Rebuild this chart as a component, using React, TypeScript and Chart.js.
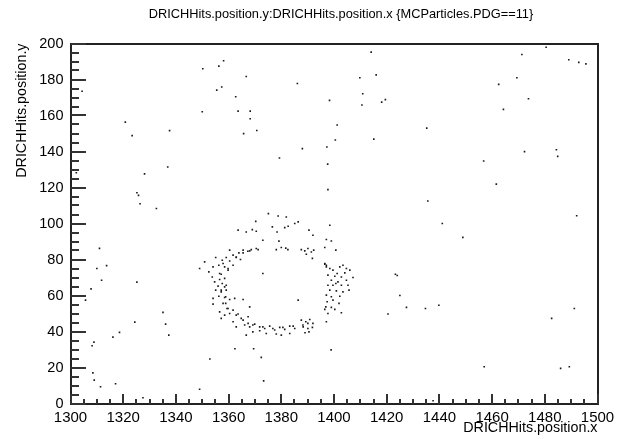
import React, { useEffect, useRef } from "react";
import { Chart, registerables } from "chart.js";

Chart.register(...registerables);

const TITLE = "DRICHHits.position.y:DRICHHits.position.x {MCParticles.PDG==11}";
const X_TITLE = "DRICHHits.position.x";
const Y_TITLE = "DRICHHits.position.y";
const X_MIN = 1300;
const X_MAX = 1500;
const X_STEP = 20;
const Y_MIN = 0;
const Y_MAX = 200;
const Y_STEP = 20;
const MINOR_STEP = 5;

// isolated hits
const scatterX = [
  1304.4, 1350.2, 1356.3, 1358.1, 1355.5, 1357.4, 1362.7, 1350.0, 1363.6, 1320.8, 1323.4, 1337.6, 1336.9,
  1414.1, 1366.7, 1386.1, 1409.8, 1416.0, 1410.9, 1410.6, 1418.1, 1419.5, 1398.3, 1368.2, 1368.2, 1365.7, 1370.7, 1401.2, 1400.5, 1415.1, 1388.0, 1397.3, 1379.3, 1397.6,
  1480.5, 1471.3, 1489.1, 1492.9, 1495.6, 1469.4, 1462.5, 1473.8, 1464.3, 1435.2, 1472.3, 1484.4, 1484.9, 1456.8,
  1302.2, 1328.1, 1325.2, 1325.8, 1326.4, 1332.6, 1311.0, 1310.0, 1313.7, 1311.8, 1325.2, 1307.8,
  1461.6, 1435.6, 1441.1, 1448.9, 1492.1,
  1305.7, 1335.1, 1324.4, 1336.1, 1318.6, 1316.1, 1337.3, 1308.9, 1308.2, 1362.4, 1352.9, 1308.5, 1309.0, 1311.4, 1317.1, 1349.0, 1327.5,
  1369.5, 1372.4, 1373.3, 1398.9, 1420.5, 1427.5, 1434.7, 1439.8, 1482.6, 1491.2, 1457.0, 1486.0, 1489.3, 1437.6,
  1397.7, 1423.3, 1424.0, 1425.0,
];
const scatterY = [
  173.5, 186.0, 187.4, 190.4, 174.1, 175.8, 170.4, 162.1, 162.4, 156.3, 148.8, 151.6, 131.4,
  195.2, 181.7, 177.8, 181.0, 182.6, 172.1, 165.8, 167.4, 168.8, 168.4, 162.4, 158.2, 149.9, 151.7, 154.7, 146.4, 146.9, 141.6, 142.5, 136.4, 133.0,
  197.9, 193.9, 191.0, 189.5, 188.7, 181.0, 177.3, 169.3, 163.4, 153.0, 139.9, 141.0, 137.3, 134.7,
  128.2, 127.6, 117.1, 115.6, 111.0, 108.3, 86.2, 75.0, 76.6, 68.5, 67.4, 63.7,
  121.9, 112.5, 100.0, 92.3, 104.3,
  57.4, 50.6, 45.2, 44.1, 39.5, 36.9, 38.0, 34.1, 32.1, 30.4, 24.7, 17.0, 13.0, 9.3, 11.0, 7.9, 3.2,
  30.4, 25.6, 12.6, 29.8, 49.7, 53.4, 52.8, 54.6, 47.3, 52.8, 20.4, 19.5, 20.4, 1.5,
  118.8, 71.8, 71.1, 60.0,
];

// Cherenkov ring hits
const ringX = [
  1375.1, 1378.8, 1381.9, 1370.3, 1363.6, 1366.7, 1369.0, 1370.5, 1376.6, 1378.4, 1381.3, 1382.6, 1385.1, 1386.4, 1373.0, 1379.1,
  1378.1, 1380.0, 1381.7, 1382.5, 1365.5, 1367.3, 1368.6, 1370.5, 1363.9,
  1360.4, 1361.7, 1362.9, 1364.5, 1359.1, 1357.6, 1360.4, 1361.7, 1356.3, 1355.1, 1358.5, 1354.1, 1350.9, 1349.0, 1359.8, 1352.5, 1356.6, 1353.8,
  1354.7, 1356.6, 1358.5, 1357.6, 1356.0, 1359.1, 1355.1, 1357.2, 1359.1, 1356.3, 1358.5, 1354.1, 1360.4, 1358.9, 1362.3, 1354.1, 1359.8, 1356.6, 1358.5, 1360.4, 1357.2, 1363.6, 1364.8, 1361.7, 1367.4, 1368.0, 1365.5, 1373.0,
  1362.9, 1366.1, 1368.0, 1369.9, 1371.8, 1373.7, 1375.6, 1377.5, 1379.4, 1381.3, 1383.2, 1385.1, 1369.2, 1374.3, 1378.1, 1380.0, 1383.2, 1366.7, 1371.8, 1386.4,
  1398.4, 1397.1, 1399.0, 1400.7, 1396.5, 1390.5, 1392.0,
  1387.6, 1388.9, 1390.1, 1391.4, 1392.3, 1389.5, 1391.8,
  1396.5, 1397.1, 1398.4, 1399.6, 1402.2, 1403.4, 1404.7, 1406.0, 1397.7, 1400.3, 1402.8, 1399.0, 1401.5, 1404.7, 1407.2, 1397.7, 1399.6, 1400.7, 1402.8, 1405.3, 1398.4, 1400.9, 1403.4, 1405.7, 1397.1, 1399.0, 1402.2, 1399.6, 1397.4, 1401.9, 1396.9, 1399.0, 1400.3, 1402.8, 1397.7, 1396.5, 1397.1, 1401.2, 1404.1,
  1387.6, 1389.3, 1390.8, 1392.0, 1388.3, 1390.1, 1391.8, 1389.0, 1390.5,
  1357.9, 1362.9, 1365.5, 1368.0, 1371.2, 1357.2, 1359.8, 1358.5, 1357.2, 1358.9, 1357.9, 1359.4, 1361.7, 1362.9, 1365.5, 1367.4, 1369.2, 1373.0, 1376.8, 1380.6, 1384.5, 1388.2, 1390.1, 1396.5, 1397.1,
];
const ringY = [
  105.5, 104.2, 103.6, 101.2, 96.3, 95.3, 96.6, 95.7, 98.1, 95.3, 97.7, 98.5, 100.0, 100.9, 90.7, 90.2,
  85.5, 86.7, 86.3, 85.5, 85.2, 84.6, 85.5, 86.1, 83.7,
  85.2, 82.4, 81.1, 80.0, 81.1, 79.6, 79.2, 76.8, 76.8, 81.1, 75.9, 75.9, 78.7, 75.0, 74.1, 73.1, 72.2, 70.3,
  67.6, 68.9, 69.5, 66.7, 65.2, 65.7, 63.0, 62.0, 63.0, 59.6, 58.9, 58.4, 57.8, 55.6, 58.4, 55.2, 52.8, 50.9, 49.1, 50.0, 47.3, 49.7, 47.3, 45.4, 48.2, 53.7, 57.8, 72.2,
  42.6, 43.6, 42.6, 44.1, 42.6, 41.7, 43.0, 40.8, 42.3, 41.2, 43.0, 41.7, 39.8, 38.9, 38.6, 38.0, 38.9, 38.0, 40.4, 57.4,
  99.0, 91.1, 90.3, 85.2, 86.7, 96.3, 93.5,
  85.5, 84.8, 86.1, 84.2, 85.2, 82.9, 80.6,
  77.4, 75.9, 75.0, 74.1, 75.9, 76.8, 75.0, 74.1, 71.3, 70.7, 70.3, 68.5, 67.6, 68.5, 70.0, 65.7, 65.7, 66.7, 65.7, 65.7, 63.0, 62.6, 62.0, 63.0, 60.2, 59.3, 59.6, 57.4, 56.5, 55.6, 53.7, 53.4, 52.3, 50.4, 50.0, 52.3, 45.4, 72.2, 72.6,
  46.3, 45.4, 46.7, 44.5, 42.6, 41.7, 42.3, 39.3, 39.8,
  77.8, 81.4, 83.7, 84.8, 85.5, 71.8, 75.0, 64.8, 63.0, 59.3, 55.6, 52.8, 51.9, 49.1, 46.3, 44.5, 43.6, 42.6, 41.7, 42.3, 43.0, 43.6, 44.5, 77.8, 76.8,
];

const FONT = '"Liberation Sans", Arial, Helvetica, sans-serif';

const rootFrame = {
  id: "rootFrame",
  afterDraw(chart: any) {
    const { ctx, chartArea: a, scales } = chart;
    const x = scales.x;
    const y = scales.y;
    const L = Math.round(a.left);
    const R = Math.round(a.right);
    const T = Math.round(a.top);
    const B = Math.round(a.bottom);
    ctx.save();
    ctx.fillStyle = "#222";
    // frame (2px)
    ctx.fillRect(L - 1, T - 1, R - L + 2, 2);
    ctx.fillRect(L - 1, B - 1, R - L + 2, 2);
    ctx.fillRect(L - 1, T - 1, 2, B - T + 2);
    ctx.fillRect(R - 1, T - 1, 2, B - T + 2);
    // ticks inside the frame (bottom and left only)
    ctx.fillStyle = "#333";
    for (let v = X_MIN; v <= X_MAX; v += MINOR_STEP) {
      const px = Math.round(x.getPixelForValue(v));
      const len = (v - X_MIN) % X_STEP === 0 ? 10 : 5;
      ctx.fillRect(px - 1, B - len, 2, len);
    }
    for (let v = Y_MIN; v <= Y_MAX; v += MINOR_STEP) {
      const py = Math.round(y.getPixelForValue(v));
      const len = (v - Y_MIN) % Y_STEP === 0 ? 15 : 8;
      ctx.fillRect(L, py - 1, len, 2);
    }
    ctx.fillStyle = "#000";
    ctx.font = `12.8px ${FONT}`;
    ctx.textAlign = "center";
    ctx.textBaseline = "middle";
    ctx.fillText(TITLE, 341, 14);
    ctx.restore();
  },
};

export default function App() {
  const ref = useRef<HTMLCanvasElement | null>(null);
  useEffect(() => {
    if (!ref.current) return;
    const pts = (xs: number[], ys: number[]) => xs.map((v, i) => ({ x: v, y: ys[i] }));
    const ds = (data: any[]) => ({
      data,
      pointStyle: "rect",
      pointRadius: 1.15,
      pointHoverRadius: 1.15,
      borderWidth: 0,
      backgroundColor: "#1a1a1a",
      showLine: false,
    });
    const chart = new Chart(ref.current, {
      type: "scatter",
      data: {
        datasets: [ds(pts(scatterX, scatterY)), ds(pts(ringX, ringY))],
      },
      options: {
        animation: false,
        responsive: false,
        devicePixelRatio: 1,
        layout: { padding: { top: 43.5, right: 23.5, left: 0, bottom: 0 } },
        plugins: { legend: { display: false }, tooltip: { enabled: false }, title: { display: false } },
        scales: {
          x: {
            type: "linear",
            min: X_MIN,
            max: X_MAX,
            grid: { display: false, drawTicks: false },
            border: { display: false },
            ticks: {
              stepSize: X_STEP,
              autoSkip: false,
              maxRotation: 0,
              padding: 5.5,
              color: "#000",
              font: { family: FONT, size: 15 },
              callback: (v: any) => String(v),
            },
            title: {
              display: true,
              text: X_TITLE,
              align: "end",
              color: "#000",
              font: { family: FONT, size: 14.3 },
              padding: { top: 0, bottom: 2 },
            },
            afterFit(scale: any) {
              scale.height = 35.5;
            },
          },
          y: {
            type: "linear",
            min: Y_MIN,
            max: Y_MAX,
            grid: { display: false, drawTicks: false },
            border: { display: false },
            ticks: {
              stepSize: Y_STEP,
              autoSkip: false,
              padding: 7,
              color: "#000",
              font: { family: FONT, size: 14.5 },
              callback: (v: any) => String(v),
            },
            title: {
              display: true,
              text: Y_TITLE,
              align: "end",
              color: "#000",
              font: { family: FONT, size: 14.3 },
              padding: { top: 13, bottom: 0 },
            },
            afterFit(scale: any) {
              scale.width = 70.5;
            },
          },
        },
      },
      plugins: [rootFrame],
    });
    return () => chart.destroy();
  }, []);
  return (
    <div style={{ position: "fixed", left: 0, top: 0, width: 621, height: 439, background: "#fff" }}>
      <canvas ref={ref} width={621} height={439} />
    </div>
  );
}
